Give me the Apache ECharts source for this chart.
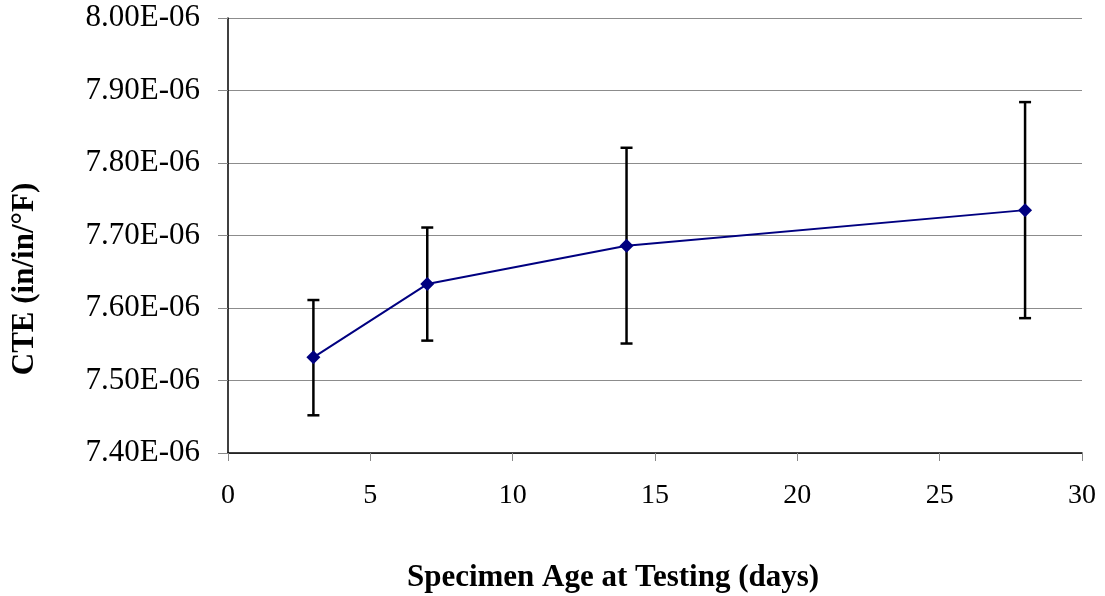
<!DOCTYPE html>
<html>
<head>
<meta charset="utf-8">
<script src="https://cdn.jsdelivr.net/npm/echarts@6/dist/echarts.min.js"></script>
<style>
  html, body { margin: 0; padding: 0; background: #fff; }
  #chart { width: 1105px; height: 596px; }
</style>
</head>
<body>
<div id="chart"></div>
<script>
// CTE values in units of 1E-06 in/in/°F
let ages = [3, 7, 14, 28]
let cte = [7.532, 7.633, 7.686, 7.735]
let errLow = [7.452, 7.555, 7.551, 7.586]
let errHigh = [7.611, 7.711, 7.821, 7.884]

let font = '"Liberation Serif", "Times New Roman", serif'

let lineData = ages.map((a, i) => [a, cte[i]])
let barData = ages.map((a, i) => [a, errLow[i], errHigh[i]])

let chart = echarts.init(document.getElementById('chart'))
chart.setOption({
  animation: false,
  grid: { left: 228, right: 23, top: 18, bottom: 143 },
  xAxis: {
    type: 'value',
    min: 0,
    max: 30,
    interval: 5,
    axisLine: { lineStyle: { color: '#000', width: 1.5 } },
    axisTick: { length: 8, lineStyle: { color: '#888' } },
    axisLabel: { color: '#000', fontFamily: font, fontSize: 28, margin: 29 },
    splitLine: { show: false },
  },
  yAxis: {
    type: 'value',
    min: 7.4,
    max: 8.0,
    interval: 0.1,
    axisLine: { show: true, lineStyle: { color: '#000', width: 1.5 } },
    axisTick: { show: true, length: 10, lineStyle: { color: '#888' } },
    axisLabel: {
      color: '#000',
      fontFamily: font,
      fontSize: 31,
      margin: 28,
      formatter: v => v.toFixed(2) + 'E-06',
    },
    splitLine: { lineStyle: { color: '#8c8c8c', width: 1 } },
  },
  graphic: [
    {
      type: 'text',
      x: 613,
      y: 578,
      style: {
        text: 'Specimen Age at Testing (days)',
        font: 'bold 31px ' + font,
        fill: '#000',
        align: 'center',
        verticalAlign: 'middle',
      },
    },
    {
      type: 'text',
      x: 25,
      y: 279,
      rotation: Math.PI / 2,
      style: {
        text: 'CTE (in/in/°F)',
        font: 'bold 31px ' + font,
        fill: '#000',
        align: 'center',
        verticalAlign: 'middle',
      },
    },
  ],
  series: [
    {
      type: 'custom',
      z: 2,
      data: barData,
      renderItem: (params, api) => {
        let x = api.value(0)
        let lo = api.coord([x, api.value(1)])
        let hi = api.coord([x, api.value(2)])
        let w = 6
        let style = { stroke: '#000', lineWidth: 2.5 }
        return {
          type: 'group',
          children: [
            { type: 'line', shape: { x1: lo[0], y1: lo[1], x2: hi[0], y2: hi[1] }, style },
            { type: 'line', shape: { x1: lo[0] - w, y1: lo[1], x2: lo[0] + w, y2: lo[1] }, style },
            { type: 'line', shape: { x1: hi[0] - w, y1: hi[1], x2: hi[0] + w, y2: hi[1] }, style },
          ],
        }
      },
    },
    {
      type: 'line',
      z: 3,
      data: lineData,
      symbol: 'diamond',
      symbolSize: 14,
      lineStyle: { color: '#000080', width: 2 },
      itemStyle: { color: '#000080' },
    },
  ],
})
</script>
</body>
</html>
